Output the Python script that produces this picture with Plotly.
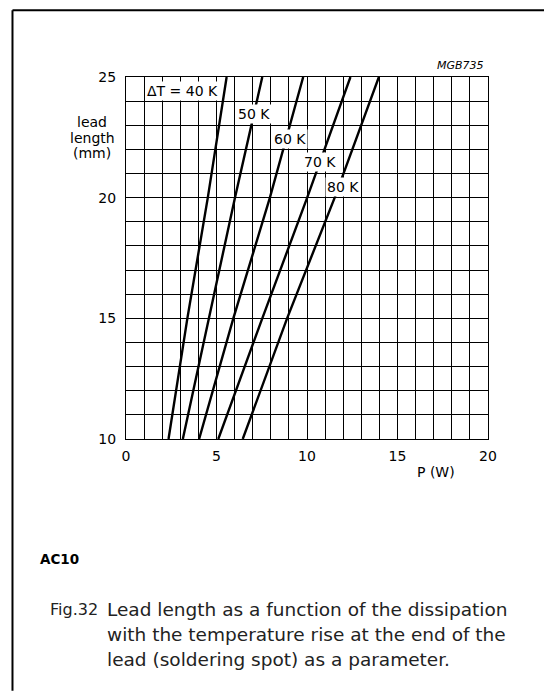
import plotly.graph_objects as go

# ---- data ----
lead_length_mm = [10, 15, 20, 25]
p_dt40 = [2.35, 3.39, 4.52, 5.56]
p_dt50 = [3.14, 4.59, 6.02, 7.53]
p_dt60 = [4.04, 5.93, 7.95, 9.79]
p_dt70 = [5.10, 7.53, 10.01, 12.40]
p_dt80 = [6.45, 8.90, 11.53, 13.97]

curve_labels = ["ΔT = 40 K", "50 K", "60 K", "70 K", "80 K"]
label_x = [3.13, 7.05, 9.05, 10.71, 11.99]
label_y = [24.41, 23.45, 22.43, 21.48, 20.44]

x_ticks = [0, 5, 10, 15, 20]
y_ticks = [10, 15, 20, 25]

# page is rendered with the default 8px body margin
OFF = 8
PAGE_W, PAGE_H = 552, 691
W, H = PAGE_W - OFF, PAGE_H - OFF
# plot area in page pixels
PX0, PX1, PY0, PY1 = 125.7, 488.3, 76.7, 439.0
ML = PX0 - OFF
MT = PY0 - OFF
MR = W - (PX1 - OFF)
MB = H - (PY1 - OFF)
PW, PH = PX1 - PX0, PY1 - PY0


def px_x(px):
    return (px - PX0) / PW


def px_y(py):
    return (PY1 - py) / PH


FONT = "DejaVu Sans"

fig = go.Figure()
for series in [p_dt40, p_dt50, p_dt60, p_dt70, p_dt80]:
    fig.add_trace(go.Scatter(x=series, y=lead_length_mm, mode="lines",
                             line=dict(color="black", width=2.4),
                             showlegend=False, hoverinfo="skip"))

annotations = []
for t, lx, ly in zip(curve_labels, label_x, label_y):
    annotations.append(dict(x=lx, y=ly, xref="x", yref="y", text=t, showarrow=False,
                            font=dict(family=FONT, size=14, color="black"),
                            bgcolor="white", borderpad=1))

# y axis title (three lines)
for i, t in enumerate(["lead", "length", "(mm)"]):
    annotations.append(dict(x=px_x(92), y=px_y(122 + 15.5 * i), xref="paper", yref="paper",
                            text=t, showarrow=False, xanchor="center", yanchor="middle",
                            font=dict(family=FONT, size=14, color="black")))
# x axis title
annotations.append(dict(x=px_x(436), y=px_y(472), xref="paper", yref="paper", text="P (W)",
                        showarrow=False, xanchor="center", yanchor="middle",
                        font=dict(family=FONT, size=14, color="black")))
# figure code
annotations.append(dict(x=px_x(486), y=px_y(65), xref="paper", yref="paper", text="<i>MGB735</i>",
                        showarrow=False, xanchor="right", yanchor="middle",
                        font=dict(family=FONT, size=11, color="black")))
# AC10
annotations.append(dict(x=px_x(38), y=px_y(559), xref="paper", yref="paper", text="<b>AC10</b>",
                        showarrow=False, xanchor="left", yanchor="middle",
                        font=dict(family=FONT, size=13.5, color="black")))
# caption
annotations.append(dict(x=px_x(48), y=px_y(610), xref="paper", yref="paper", text="Fig.32",
                        showarrow=False, xanchor="left", yanchor="middle",
                        font=dict(family=FONT, size=16, color="#222")))
caption_lines = ["Lead length as a function of the dissipation",
                 "with the temperature rise at the end of the",
                 "lead (soldering spot) as a parameter."]
for i, t in enumerate(caption_lines):
    annotations.append(dict(x=px_x(105), y=px_y(610 + 25 * i), xref="paper", yref="paper",
                            text=t, showarrow=False, xanchor="left", yanchor="middle",
                            font=dict(family=FONT, size=18.5, color="#222")))

shapes = [
    dict(type="line", xref="paper", yref="paper", x0=px_x(12), y0=px_y(10), x1=px_x(PAGE_W), y1=px_y(10),
         line=dict(color="black", width=2)),
    dict(type="line", xref="paper", yref="paper", x0=px_x(12), y0=px_y(10), x1=px_x(12), y1=px_y(PAGE_H),
         line=dict(color="black", width=2)),
]

axis_common = dict(showline=True, linecolor="black", linewidth=1, mirror=True,
                   showgrid=True, gridcolor="black", gridwidth=1, zeroline=False,
                   ticks="", tickfont=dict(family=FONT, size=14, color="black"),
                   fixedrange=True)

fig.update_layout(
    width=W, height=H, autosize=False,
    margin=dict(l=ML, r=MR, t=MT, b=MB, pad=0),
    paper_bgcolor="white", plot_bgcolor="white",
    xaxis=dict(range=[0, 20], tickvals=x_ticks, ticklabelstandoff=4,
               minor=dict(dtick=1, showgrid=True, gridcolor="black", gridwidth=1),
               **axis_common),
    yaxis=dict(range=[10, 25], tickvals=y_ticks, ticklabelstandoff=6,
               minor=dict(dtick=1, showgrid=True, gridcolor="black", gridwidth=1),
               **axis_common),
    annotations=annotations, shapes=shapes,
    showlegend=False,
)

fig.write_html("out.html")
